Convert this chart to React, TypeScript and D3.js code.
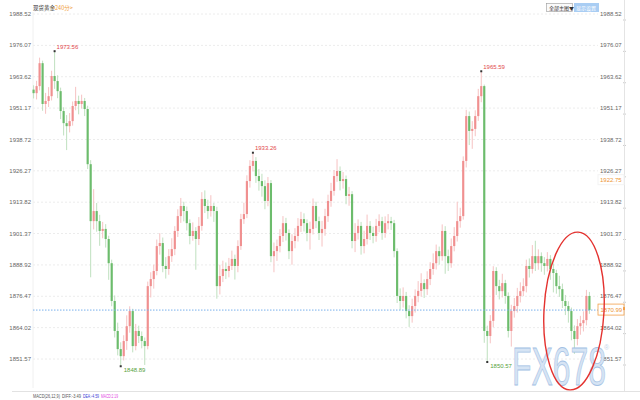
import * as d3 from "d3";

const W = 640;
const H = 400;

const tickLabels = [
  "1988.52", "1976.07", "1963.62", "1951.17", "1938.72", "1926.27",
  "1913.82", "1901.37", "1888.92", "1876.47", "1864.02", "1851.57",
];

// 240-minute bars: [open, high, low, close]
const candles: [number, number, number, number][] = [
  [1958.5, 1960.2, 1955.0, 1957.1], [1957.1, 1962.0, 1954.6, 1959.9], [1959.9, 1971.2, 1958.2, 1969.0],
  [1969.0, 1970.0, 1950.1, 1952.8], [1952.8, 1957.2, 1948.9, 1954.0], [1954.0, 1959.5, 1951.6, 1955.9],
  [1955.9, 1966.0, 1954.2, 1963.9], [1963.9, 1973.56, 1958.8, 1961.9], [1961.9, 1964.2, 1955.1, 1957.9],
  [1957.9, 1959.3, 1946.8, 1950.0], [1950.0, 1951.5, 1940.3, 1945.2], [1945.2, 1948.4, 1934.5, 1944.0],
  [1944.0, 1949.2, 1941.5, 1946.0], [1946.0, 1953.8, 1944.2, 1952.0], [1952.0, 1959.6, 1950.3, 1954.0],
  [1954.0, 1956.1, 1948.7, 1952.8], [1952.8, 1956.5, 1951.0, 1954.0], [1954.0, 1955.2, 1948.0, 1950.8],
  [1950.8, 1952.1, 1927.0, 1928.9], [1928.9, 1930.5, 1884.0, 1906.3], [1906.3, 1919.0, 1903.0, 1910.3],
  [1910.3, 1913.5, 1902.1, 1906.3], [1906.3, 1908.8, 1896.5, 1902.4], [1902.4, 1906.0, 1899.5, 1903.2],
  [1903.2, 1905.1, 1895.8, 1899.2], [1899.2, 1900.5, 1883.0, 1889.6], [1889.6, 1891.0, 1872.5, 1874.6],
  [1874.6, 1876.8, 1860.1, 1862.7], [1862.7, 1866.0, 1853.0, 1855.5], [1855.5, 1858.2, 1848.89, 1852.7],
  [1852.7, 1861.0, 1851.0, 1858.7], [1858.7, 1868.9, 1855.2, 1864.6], [1864.6, 1872.5, 1862.0, 1870.6],
  [1870.6, 1871.5, 1854.2, 1856.7], [1856.7, 1865.5, 1855.0, 1862.7], [1862.7, 1864.8, 1857.9, 1860.7],
  [1860.7, 1862.5, 1855.8, 1858.7], [1858.7, 1860.1, 1849.2, 1856.7], [1856.7, 1882.3, 1855.4, 1880.5],
  [1880.5, 1886.0, 1876.0, 1883.3], [1883.3, 1889.0, 1879.5, 1886.5], [1886.5, 1899.0, 1884.8, 1896.4],
  [1896.4, 1901.5, 1893.0, 1897.6], [1897.6, 1899.8, 1886.0, 1888.5], [1888.5, 1892.0, 1883.5, 1887.3],
  [1887.3, 1895.2, 1885.0, 1892.4], [1892.4, 1899.5, 1890.1, 1895.2], [1895.2, 1904.3, 1892.8, 1902.4],
  [1902.4, 1911.0, 1900.0, 1908.3], [1908.3, 1915.5, 1905.6, 1912.3], [1912.3, 1914.0, 1906.2, 1910.3],
  [1910.3, 1912.1, 1902.6, 1905.5], [1905.5, 1907.0, 1897.1, 1900.4], [1900.4, 1905.8, 1898.5, 1902.4],
  [1902.4, 1903.9, 1887.0, 1899.2], [1899.2, 1907.9, 1896.8, 1904.4], [1904.4, 1917.8, 1902.5, 1915.1],
  [1915.1, 1918.5, 1909.5, 1912.3], [1912.3, 1914.8, 1907.2, 1910.3], [1910.3, 1916.6, 1908.1, 1912.3],
  [1912.3, 1913.5, 1906.0, 1910.3], [1910.3, 1912.0, 1875.5, 1880.5], [1880.5, 1889.0, 1877.2, 1884.5],
  [1884.5, 1890.6, 1882.1, 1887.3], [1887.3, 1889.9, 1883.3, 1886.5], [1886.5, 1891.7, 1884.0, 1888.5],
  [1888.5, 1894.6, 1886.9, 1891.3], [1891.3, 1893.0, 1883.1, 1888.5], [1888.5, 1898.7, 1886.0, 1896.4],
  [1896.4, 1909.2, 1894.9, 1907.1], [1907.1, 1913.6, 1905.2, 1909.1], [1909.1, 1924.5, 1907.5, 1922.2],
  [1922.2, 1930.5, 1919.6, 1928.2], [1928.2, 1933.26, 1926.0, 1930.2], [1930.2, 1931.7, 1921.5, 1924.2],
  [1924.2, 1927.0, 1918.4, 1922.2], [1922.2, 1925.1, 1916.0, 1920.2], [1920.2, 1922.5, 1911.0, 1914.3],
  [1914.3, 1923.8, 1912.2, 1921.4], [1921.4, 1922.6, 1890.0, 1892.4], [1892.4, 1897.8, 1886.0, 1894.4],
  [1894.4, 1899.0, 1890.5, 1896.4], [1896.4, 1903.1, 1893.9, 1900.4], [1900.4, 1908.3, 1898.0, 1905.5],
  [1905.5, 1907.6, 1898.6, 1901.6], [1901.6, 1903.0, 1891.2, 1894.4], [1894.4, 1901.1, 1889.0, 1898.4],
  [1898.4, 1903.5, 1895.5, 1900.4], [1900.4, 1907.5, 1898.2, 1904.4], [1904.4, 1910.0, 1902.0, 1907.1],
  [1907.1, 1909.4, 1902.2, 1905.5], [1905.5, 1907.0, 1898.3, 1901.6], [1901.6, 1906.1, 1895.0, 1903.2],
  [1903.2, 1915.3, 1901.0, 1912.3], [1912.3, 1914.0, 1903.5, 1906.3], [1906.3, 1908.1, 1898.8, 1901.6],
  [1901.6, 1906.4, 1896.2, 1903.2], [1903.2, 1911.2, 1900.5, 1908.3], [1908.3, 1916.8, 1906.0, 1914.3],
  [1914.3, 1921.5, 1912.0, 1918.3], [1918.3, 1926.6, 1916.4, 1924.2], [1924.2, 1930.9, 1921.9, 1926.2],
  [1926.2, 1928.0, 1918.5, 1922.2], [1922.2, 1925.8, 1919.2, 1923.0], [1923.0, 1924.4, 1913.0, 1916.3],
  [1916.3, 1919.9, 1912.4, 1917.0], [1917.0, 1918.2, 1895.5, 1898.4], [1898.4, 1905.5, 1894.0, 1901.6],
  [1901.6, 1907.0, 1899.0, 1904.4], [1904.4, 1906.0, 1893.0, 1896.4], [1896.4, 1902.5, 1893.5, 1899.2],
  [1899.2, 1908.9, 1897.0, 1904.4], [1904.4, 1906.3, 1898.8, 1901.6], [1901.6, 1904.1, 1897.5, 1900.4],
  [1900.4, 1907.2, 1898.1, 1904.4], [1904.4, 1909.0, 1901.9, 1906.3], [1906.3, 1908.0, 1898.9, 1901.6],
  [1901.6, 1908.2, 1899.7, 1905.5], [1905.5, 1909.1, 1903.0, 1906.3], [1906.3, 1908.0, 1902.8, 1905.5],
  [1905.5, 1906.8, 1891.9, 1894.4], [1894.4, 1895.5, 1873.8, 1876.6], [1876.6, 1879.6, 1871.1, 1874.6],
  [1874.6, 1880.0, 1872.0, 1876.6], [1876.6, 1878.2, 1867.7, 1870.6], [1870.6, 1872.9, 1864.3, 1868.6],
  [1868.6, 1875.5, 1866.0, 1872.6], [1872.6, 1879.2, 1870.0, 1876.6], [1876.6, 1882.5, 1874.1, 1878.6],
  [1878.6, 1885.6, 1876.3, 1881.7], [1881.7, 1883.2, 1875.8, 1879.3], [1879.3, 1886.4, 1877.0, 1883.3],
  [1883.3, 1890.0, 1880.9, 1887.3], [1887.3, 1893.5, 1885.0, 1889.6], [1889.6, 1897.0, 1887.1, 1894.4],
  [1894.4, 1896.2, 1889.0, 1892.4], [1892.4, 1905.0, 1890.6, 1902.4], [1902.4, 1904.3, 1885.4, 1892.4],
  [1892.4, 1895.0, 1886.5, 1889.6], [1889.6, 1899.4, 1887.8, 1896.4], [1896.4, 1903.9, 1894.3, 1900.4],
  [1900.4, 1914.0, 1898.2, 1906.3], [1906.3, 1911.6, 1903.7, 1908.3], [1908.3, 1932.0, 1906.9, 1930.2],
  [1930.2, 1950.5, 1927.6, 1948.0], [1948.0, 1949.8, 1936.5, 1942.1], [1942.1, 1946.0, 1935.0, 1942.9],
  [1942.9, 1950.3, 1940.0, 1948.0], [1948.0, 1958.8, 1946.1, 1955.9], [1955.9, 1965.59, 1953.5, 1959.9],
  [1959.9, 1960.5, 1858.0, 1862.7], [1862.7, 1864.8, 1850.57, 1860.7], [1860.7, 1869.0, 1857.8, 1866.7],
  [1866.7, 1888.4, 1864.2, 1886.5], [1886.5, 1888.0, 1877.0, 1880.5], [1880.5, 1883.0, 1875.2, 1878.5],
  [1878.5, 1885.4, 1876.0, 1881.7], [1881.7, 1883.0, 1873.5, 1876.6], [1876.6, 1878.0, 1860.1, 1862.7],
  [1862.7, 1873.1, 1856.5, 1870.6], [1870.6, 1875.8, 1868.0, 1872.6], [1872.6, 1879.8, 1870.0, 1876.6],
  [1876.6, 1882.0, 1874.0, 1878.5], [1878.5, 1883.6, 1876.5, 1880.5], [1880.5, 1891.0, 1878.0, 1888.5],
  [1888.5, 1891.5, 1883.9, 1887.3], [1887.3, 1896.8, 1885.5, 1892.4], [1892.4, 1898.5, 1886.5, 1889.6],
  [1889.6, 1895.1, 1887.0, 1892.4], [1892.4, 1893.9, 1886.2, 1889.6], [1889.6, 1892.0, 1885.0, 1888.5],
  [1888.5, 1894.0, 1886.3, 1891.3], [1891.3, 1892.8, 1883.0, 1887.3], [1887.3, 1889.5, 1878.0, 1885.7],
  [1885.7, 1887.0, 1877.5, 1880.5], [1880.5, 1884.6, 1876.2, 1879.3], [1879.3, 1881.5, 1871.8, 1874.6],
  [1874.6, 1877.0, 1869.0, 1872.6], [1872.6, 1874.5, 1866.0, 1870.6], [1870.6, 1872.0, 1859.0, 1862.7],
  [1862.7, 1864.9, 1853.6, 1859.5], [1859.5, 1867.4, 1857.0, 1864.6], [1864.6, 1868.7, 1861.2, 1865.8],
  [1865.8, 1870.5, 1862.5, 1867.0], [1867.0, 1879.0, 1864.9, 1876.6], [1876.6, 1878.2, 1869.5, 1870.99],
];

const peakLabels = [1973.56, 1933.26, 1965.59];
const troughLabels = [1848.89, 1850.57];
const lastPrice = 1870.99;
const refPrice = 1922.75;

const macdLabels = [
  { text: "MACD(26,12,9)", color: "#555" },
  { text: "DIFF:-3.49", color: "#555" },
  { text: "DEA:-4.59", color: "#3b3bd6" },
  { text: "MACD:2.19", color: "#e23ee2" },
];
const macdX = [33, 62, 83, 101];
const macdW = [27, 19, 16, 17];

const UP = "#f09090";
const UP_WICK = "#f6c2c2";
const DOWN = "#6cbc6c";
const DOWN_WICK = "#bfe0bf";
const FONT = "'Liberation Sans', Arial, sans-serif";

export default function App() {
  const ticks = tickLabels.map(Number);
  const y = d3.scaleLinear().domain([1851.57, 1988.52]).range([359, 14]);
  const x = d3
    .scaleBand<number>()
    .domain(d3.range(candles.length))
    .range([32.5, 32.5 + 3 * candles.length])
    .paddingInner(0.28);
  const bw = Math.max(1.5, x.bandwidth());
  const cx = (i: number) => (x(i) ?? 0) + x.bandwidth() / 2;

  const peaks = peakLabels.map((v) => ({ v, i: candles.findIndex((c) => c[1] === v) }));
  const troughs = troughLabels.map((v) => ({ v, i: candles.findIndex((c) => c[2] === v) }));

  return (
    <svg
      width={W}
      height={H}
      style={{ position: "fixed", left: 0, top: 0, background: "#fff" }}
      fontFamily={FONT}
    >
      <rect width={W} height={H} fill="#fff" />

      {/* grid + axes */}
      {ticks.map((t, k) => (
        <g key={k}>
          <line x1={33} x2={598} y1={y(t)} y2={y(t)} stroke="#ececec" strokeDasharray="2 2" />
          <text x={31} y={y(t)} dy="0.35em" textAnchor="end" fontSize={6} fill="#666">
            {tickLabels[k]}
          </text>
          <text x={600} y={y(t)} dy="0.35em" fontSize={6} fill="#666">
            {tickLabels[k]}
          </text>
          <line x1={623} x2={626} y1={y(t) + 6} y2={y(t) + 6} stroke="#ccc" />
        </g>
      ))}
      <line x1={33} x2={33} y1={12} y2={388} stroke="#f0f0f0" />
      <line x1={624.5} x2={624.5} y1={0} y2={391} stroke="#e4e4e4" />
      <line x1={12} x2={W} y1={391.5} y2={391.5} stroke="#e2e2e2" />

      {/* candles */}
      {candles.map(([o, h, l, c], i) => {
        const up = c >= o;
        const top = y(Math.max(o, c));
        const bot = y(Math.min(o, c));
        return (
          <g key={i}>
            <line
              x1={cx(i)}
              x2={cx(i)}
              y1={y(h)}
              y2={y(l)}
              stroke={up ? UP_WICK : DOWN_WICK}
              strokeWidth={1}
            />
            <rect
              x={cx(i) - bw / 2}
              y={top}
              width={bw}
              height={Math.max(1, bot - top)}
              fill={up ? UP : DOWN}
            />
          </g>
        );
      })}

      {/* last price line */}
      <line
        x1={33}
        x2={598}
        y1={y(lastPrice)}
        y2={y(lastPrice)}
        stroke="#79b0ec"
        strokeDasharray="1.5 1.5"
      />
      <rect x={598} y={y(lastPrice) - 6} width={26} height={11} fill="#fff" stroke="#f3a04a" strokeWidth={0.8} />
      <text x={600.5} y={y(lastPrice)} dy="0.35em" fontSize={6} fill="#ee9533">
        {lastPrice.toFixed(2)}
      </text>
      <rect x={623} y={y(lastPrice) - 3} width={2} height={3} fill="#f3a04a" />
      <rect x={598} y={y(refPrice) - 5} width={26} height={10} fill="#fff" stroke="#f3f3f3" />
      <text x={600} y={y(refPrice)} dy="0.35em" fontSize={6} fill="#ee9533">
        {refPrice.toFixed(2)}
      </text>

      {/* extreme labels */}
      {peaks.map(({ v, i }) => (
        <g key={`p${v}`}>
          <rect x={cx(i) - 1} y={y(v) - 1.5} width={2} height={2} fill="#333" />
          <text x={cx(i) + 2} y={y(v) - 3} fontSize={6} fill="#e2474b">
            {v.toFixed(2)}
          </text>
        </g>
      ))}
      {troughs.map(({ v, i }) => (
        <g key={`t${v}`}>
          <rect x={cx(i) - 1} y={y(v) - 0.5} width={2} height={2} fill="#333" />
          <text x={cx(i) + 3} y={y(v) + 6} fontSize={6} fill="#57a23d">
            {v.toFixed(2)}
          </text>
        </g>
      ))}

      {/* header */}
      <text x={33} y={10} fontSize={5.5} fill="#333" fontFamily="'Noto Sans CJK SC', sans-serif">
        现货黄金
      </text>
      <text x={52} y={10} fontSize={5.5} fill="#f0a040" fontFamily="'Noto Sans CJK SC', sans-serif">
        &lt;240分&gt;
      </text>
      <rect x={546.5} y={3.5} width={26} height={8} fill="#fafafa" stroke="#999" strokeWidth={0.6} />
      <text x={549} y={9.8} fontSize={5} fill="#333" fontFamily="'Noto Sans CJK SC', sans-serif">
        全部主图▼
      </text>
      <rect x={574} y={3} width={25} height={9} fill="#a9cdf3" />
      <text x={576} y={9.8} fontSize={5} fill="#fff" fontFamily="'Noto Sans CJK SC', sans-serif">
        显示设置
      </text>

      {/* MACD legend */}
      {macdLabels.map((m, k) => (
        <text
          key={k}
          x={macdX[k]}
          y={398}
          fontSize={5.5}
          fill={m.color}
          textLength={macdW[k]}
          lengthAdjust="spacingAndGlyphs"
        >
          {m.text}
        </text>
      ))}

      {/* watermark */}
      <text
        x={512}
        y={385}
        fontSize={54}
        textLength={94}
        lengthAdjust="spacingAndGlyphs"
        fill="#d6e4f4"
        stroke="#a3c1e4"
        strokeWidth={0.8}
        fontFamily={FONT}
      >
        FX678
      </text>
      <text x={604} y={350} fontSize={7} fill="#c5d6ea">
        ®
      </text>

      {/* highlight ellipse */}
      <ellipse
        cx={574}
        cy={311}
        rx={30}
        ry={79}
        transform="rotate(3 574 311)"
        fill="none"
        stroke="#e4322f"
        strokeWidth={1.4}
      />
    </svg>
  );
}
